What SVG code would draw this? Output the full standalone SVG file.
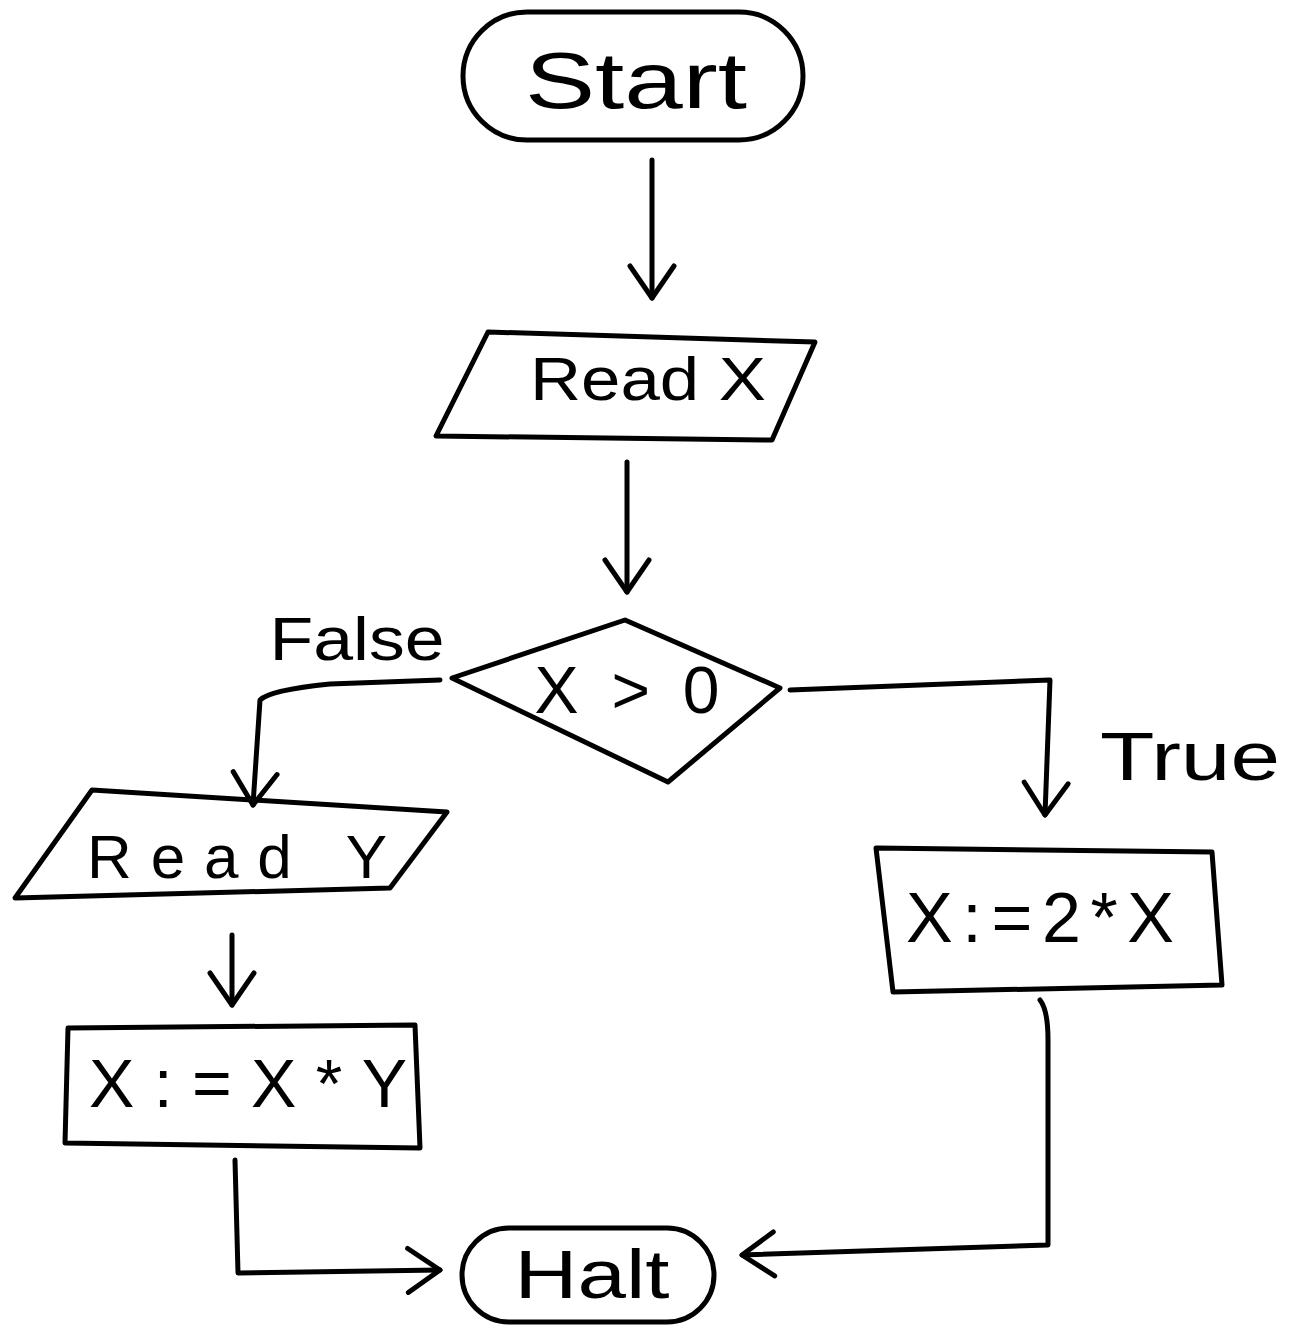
<svg xmlns="http://www.w3.org/2000/svg" width="1289" height="1333" viewBox="0 0 1289 1333">
<style>
.s{fill:none;stroke:#000;stroke-width:5;stroke-linejoin:round;stroke-linecap:round}
.t{font-family:"Liberation Sans",Arial,sans-serif;fill:#000;text-anchor:middle;dominant-baseline:central}
</style>
<defs>
<marker id="a" markerUnits="userSpaceOnUse" markerWidth="60" markerHeight="60" viewBox="0 0 60 60" refX="52" refY="30" orient="auto">
<path d="M20,8 L52,30 L20,52" fill="none" stroke="#000" stroke-width="5" stroke-linecap="round" stroke-linejoin="round"/>
</marker>
</defs>
<rect width="1289" height="1333" fill="#fff"/>
<g id="connectors">
<path class="s" d="M652,160 L652,298" marker-end="url(#a)"/>
<path class="s" d="M627,462 L627,592" marker-end="url(#a)"/>
<path class="s" d="M440,680 L330,684 Q270,690 260,700 L253,805" marker-end="url(#a)"/>
<path class="s" d="M790,690 L1050,680 L1045,815" marker-end="url(#a)"/>
<path class="s" d="M232,935 L232,1005" marker-end="url(#a)"/>
<path class="s" d="M235,1160 L238,1273 L440,1270" marker-end="url(#a)"/>
<path class="s" d="M1040,1000 Q1048,1010 1048,1040 L1048,1245 L742,1255" marker-end="url(#a)"/>
</g>
<g id="start">
<rect class="s" x="463" y="12" width="340" height="128" rx="64"/>
<text class="t" x="636" y="80" font-size="80" textLength="222" lengthAdjust="spacingAndGlyphs">Start</text>
</g>
<g id="readx">
<polygon class="s" points="488,332 815,342 772,440 436,436"/>
<text class="t" x="648" y="378" font-size="62" textLength="236" lengthAdjust="spacingAndGlyphs">Read X</text>
</g>
<g id="decision">
<polygon class="s" points="625,620 780,688 668,782 452,678"/>
<text class="t" x="627" y="690" font-size="66" textLength="185" lengthAdjust="spacing">X &gt; 0</text>
</g>
<g id="labels">
<text class="t" x="357" y="638" font-size="62" textLength="175" lengthAdjust="spacingAndGlyphs">False</text>
<text class="t" x="1190" y="756" font-size="68" textLength="180" lengthAdjust="spacingAndGlyphs">True</text>
</g>
<g id="ready">
<polygon class="s" points="92,790 447,812 390,888 15,898"/>
<text class="t" x="237" y="856" font-size="62" textLength="300" lengthAdjust="spacing">Read Y</text>
</g>
<g id="xxy">
<polygon class="s" points="68,1028 415,1025 420,1148 65,1143"/>
<text class="t" x="248" y="1083" font-size="68" textLength="318" lengthAdjust="spacing">X:=X*Y</text>
</g>
<g id="x2x">
<polygon class="s" points="876,848 1212,852 1222,985 893,992"/>
<text class="t" x="1040" y="918" font-size="70" textLength="268" lengthAdjust="spacing">X:=2*X</text>
</g>
<g id="halt">
<rect class="s" x="462" y="1228" width="252" height="94" rx="47"/>
<text class="t" x="592" y="1274" font-size="68" textLength="155" lengthAdjust="spacingAndGlyphs">Halt</text>
</g>
</svg>
